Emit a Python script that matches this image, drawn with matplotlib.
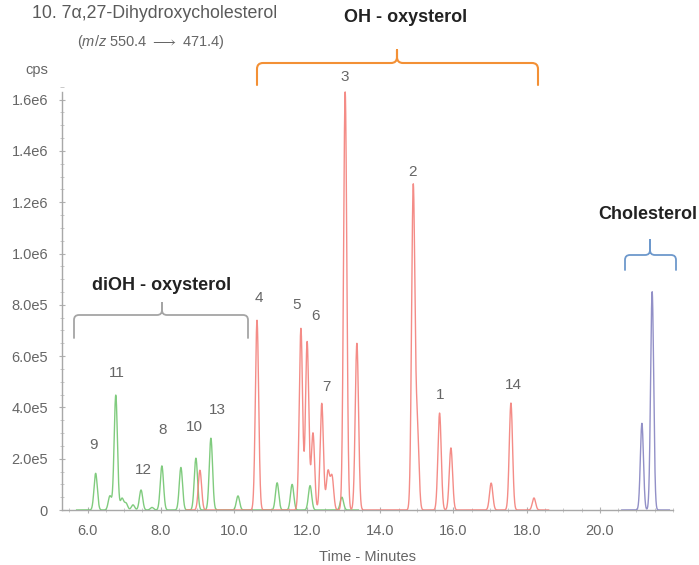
import numpy as np
import matplotlib
matplotlib.use("Agg")
import matplotlib.pyplot as plt
from matplotlib.path import Path
from matplotlib.patches import PathPatch
from matplotlib.transforms import Affine2D
from matplotlib.ticker import MultipleLocator, FixedLocator

plt.rcParams['font.family'] = ['Liberation Sans', 'DejaVu Sans']
plt.rcParams['mathtext.fontset'] = 'custom'
plt.rcParams['mathtext.rm'] = 'Liberation Sans'
plt.rcParams['mathtext.it'] = 'Liberation Sans:italic'
plt.rcParams['mathtext.bf'] = 'Liberation Sans:bold'

# ---------------- data ----------------
# diOH-oxysterol trace (green): retention time (min), height (cps)
green_t = [6.22, 6.61, 6.77, 6.94, 7.05, 7.24, 7.46, 7.76, 8.03, 8.55, 8.96, 9.37,
           10.11, 11.18, 11.59, 12.08, 12.95]
green_h = [1.43e5, 0.55e5, 4.48e5, 0.45e5, 0.26e5, 0.20e5, 0.78e5, 0.10e5, 1.72e5,
           1.66e5, 2.02e5, 2.80e5, 0.55e5, 1.06e5, 1.00e5, 0.95e5, 0.50e5]

# OH-oxysterol trace (red)
red_t = [9.07, 10.63, 11.83, 12.00, 12.16, 12.40, 12.57, 12.68, 13.04, 13.36,
         14.90, 15.01, 15.62, 15.93, 17.03, 17.57, 18.20]
red_h = [1.55e5, 7.40e5, 7.08e5, 6.56e5, 3.00e5, 4.16e5, 1.49e5, 1.30e5, 1.63e6,
         6.50e5, 1.255e6, 3.2e5, 3.78e5, 2.42e5, 1.05e5, 4.17e5, 0.47e5]

# Cholesterol trace (blue)
blue_t = [21.15, 21.43]
blue_h = [3.38e5, 8.51e5]

# peak number labels: text, time, cps
peak_labels = ["9", "11", "12", "8", "10", "13", "4", "5", "6", "7", "3", "2", "1", "14"]
label_t = [6.15, 6.81, 7.52, 8.06, 8.91, 9.54, 10.69, 11.72, 12.24, 12.52, 13.04, 14.89, 15.63, 17.63]
label_y = [2.53e5, 5.34e5, 1.56e5, 3.12e5, 3.24e5, 3.90e5, 8.27e5, 7.99e5, 7.56e5,
           4.80e5, 1.688e6, 1.318e6, 4.48e5, 4.87e5]

x_ticks = [6.0, 8.0, 10.0, 12.0, 14.0, 16.0, 18.0, 20.0]
x_ticklabels = ["6.0", "8.0", "10.0", "12.0", "14.0", "16.0", "18.0", "20.0"]
y_ticks = [0, 2e5, 4e5, 6e5, 8e5, 1.0e6, 1.2e6, 1.4e6, 1.6e6]
y_ticklabels = ["0", "2.0e5", "4.0e5", "6.0e5", "8.0e5", "1.0e6", "1.2e6", "1.4e6", "1.6e6"]

# ---------------- figure ----------------
W, H = 699, 565
fig = plt.figure(figsize=(W / 100, H / 100), dpi=100)
ax = fig.add_axes([62 / W, 1 - 510 / H, (673 - 62) / W, (510 - 86.8) / H])
ax.set_xlim(5.30, 22.0)
ax.set_ylim(0, 1.65e6)


def trace(ts, hs, t0, t1, sigma):
    x = np.linspace(t0, t1, 4000)
    y = np.zeros_like(x)
    for t, h in zip(ts, hs):
        y += h * np.exp(-0.5 * ((x - t) / sigma) ** 2)
    return x, y


gx, gy = trace(green_t, green_h, 5.7, 13.4, 0.045)
rx, ry = trace(red_t, red_h, 8.7, 18.6, 0.045)
bx, by = trace(blue_t, blue_h, 20.6, 21.9, 0.042)
ax.plot(gx, gy, color="#72c670", lw=1.0, alpha=0.9, zorder=3)
ax.plot(rx, ry, color="#f3807a", lw=1.0, alpha=0.9, zorder=4)
ax.plot(bx, by, color="#8c8ac4", lw=1.0, alpha=0.95, zorder=3)

for s in ["top", "right"]:
    ax.spines[s].set_visible(False)
for s in ["left", "bottom"]:
    ax.spines[s].set_color("#a8a8a8")
    ax.spines[s].set_linewidth(1.0)
ax.spines["left"].set_bounds(0, 1.63e6)

ax.xaxis.set_major_locator(FixedLocator(x_ticks))
ax.set_xticklabels(x_ticklabels)
ax.xaxis.set_minor_locator(MultipleLocator(0.5))
ax.yaxis.set_major_locator(FixedLocator(y_ticks))
ax.set_yticklabels(y_ticklabels)
ax.yaxis.set_minor_locator(MultipleLocator(5e4))
ax.tick_params(axis="both", which="major", direction="inout", length=4, width=0.8,
               color="#b0b0b0", labelcolor="#666666", labelsize=10.5)
ax.tick_params(axis="both", which="minor", direction="inout", length=3, width=0.6,
               color="#c0c0c0")
ax.tick_params(axis="y", which="major", pad=8)
ax.tick_params(axis="x", which="major", pad=8)

ax.set_xlabel("Time - Minutes", color="#666666", fontsize=10.5, labelpad=9)

for lab, t, y in zip(peak_labels, label_t, label_y):
    ax.text(t, y, lab, ha="center", va="center", fontsize=11, color="#666666",
            clip_on=False)

# ---------------- annotations in pixel space ----------------
pix = Affine2D().scale(1 / W, -1 / H).translate(0, 1) + fig.transFigure


def ftext(x, y, s, **kw):
    fig.text(x / W, 1 - y / H, s, **kw)


ftext(32, 13, "10. 7\u03b1,27-Dihydroxycholesterol", fontsize=12.8, color="#5a5a5a",
      ha="left", va="center")
ftext(151, 42, r"($\mathit{m/z}$ 550.4 $\longrightarrow$ 471.4)", fontsize=10.5,
      color="#666666", ha="center", va="center")
ftext(37, 70, "cps", fontsize=10.5, color="#666666", ha="center", va="center")

ftext(406, 18, "OH - oxysterol", fontsize=13, fontweight="bold", color="#222222",
      ha="center", va="center")
ftext(162, 286, "diOH - oxysterol", fontsize=13, fontweight="bold", color="#222222",
      ha="center", va="center")
ftext(648, 215, "Cholesterol", fontsize=13, fontweight="bold", color="#222222",
      ha="center", va="center")


def bracket(x0, x1, xm, yb, yh, yt, r, color, lw=1.5):
    verts = [(x0, yb), (x0, yh + r), (x0, yh), (x0 + r, yh),
             (xm - r, yh), (xm, yh), (xm, yh - r), (xm, yt),
             (xm, yh - r), (xm, yh), (xm + r, yh),
             (x1 - r, yh), (x1, yh), (x1, yh + r), (x1, yb)]
    codes = [Path.MOVETO, Path.LINETO, Path.CURVE3, Path.CURVE3,
             Path.LINETO, Path.CURVE3, Path.CURVE3, Path.LINETO,
             Path.LINETO, Path.CURVE3, Path.CURVE3,
             Path.LINETO, Path.CURVE3, Path.CURVE3, Path.LINETO]
    p = PathPatch(Path(verts, codes), fill=False, edgecolor=color, lw=lw,
                  transform=pix, capstyle="round", joinstyle="round")
    fig.add_artist(p)


bracket(257, 538, 397, 85, 63, 50, 6, "#f39035")
bracket(74, 248, 162, 338, 315, 303, 5, "#a5a5a5", lw=1.3)
bracket(625, 676, 650, 270, 255, 240, 5, "#6d98cc", lw=1.3)

fig.savefig("out.png", dpi=100)
